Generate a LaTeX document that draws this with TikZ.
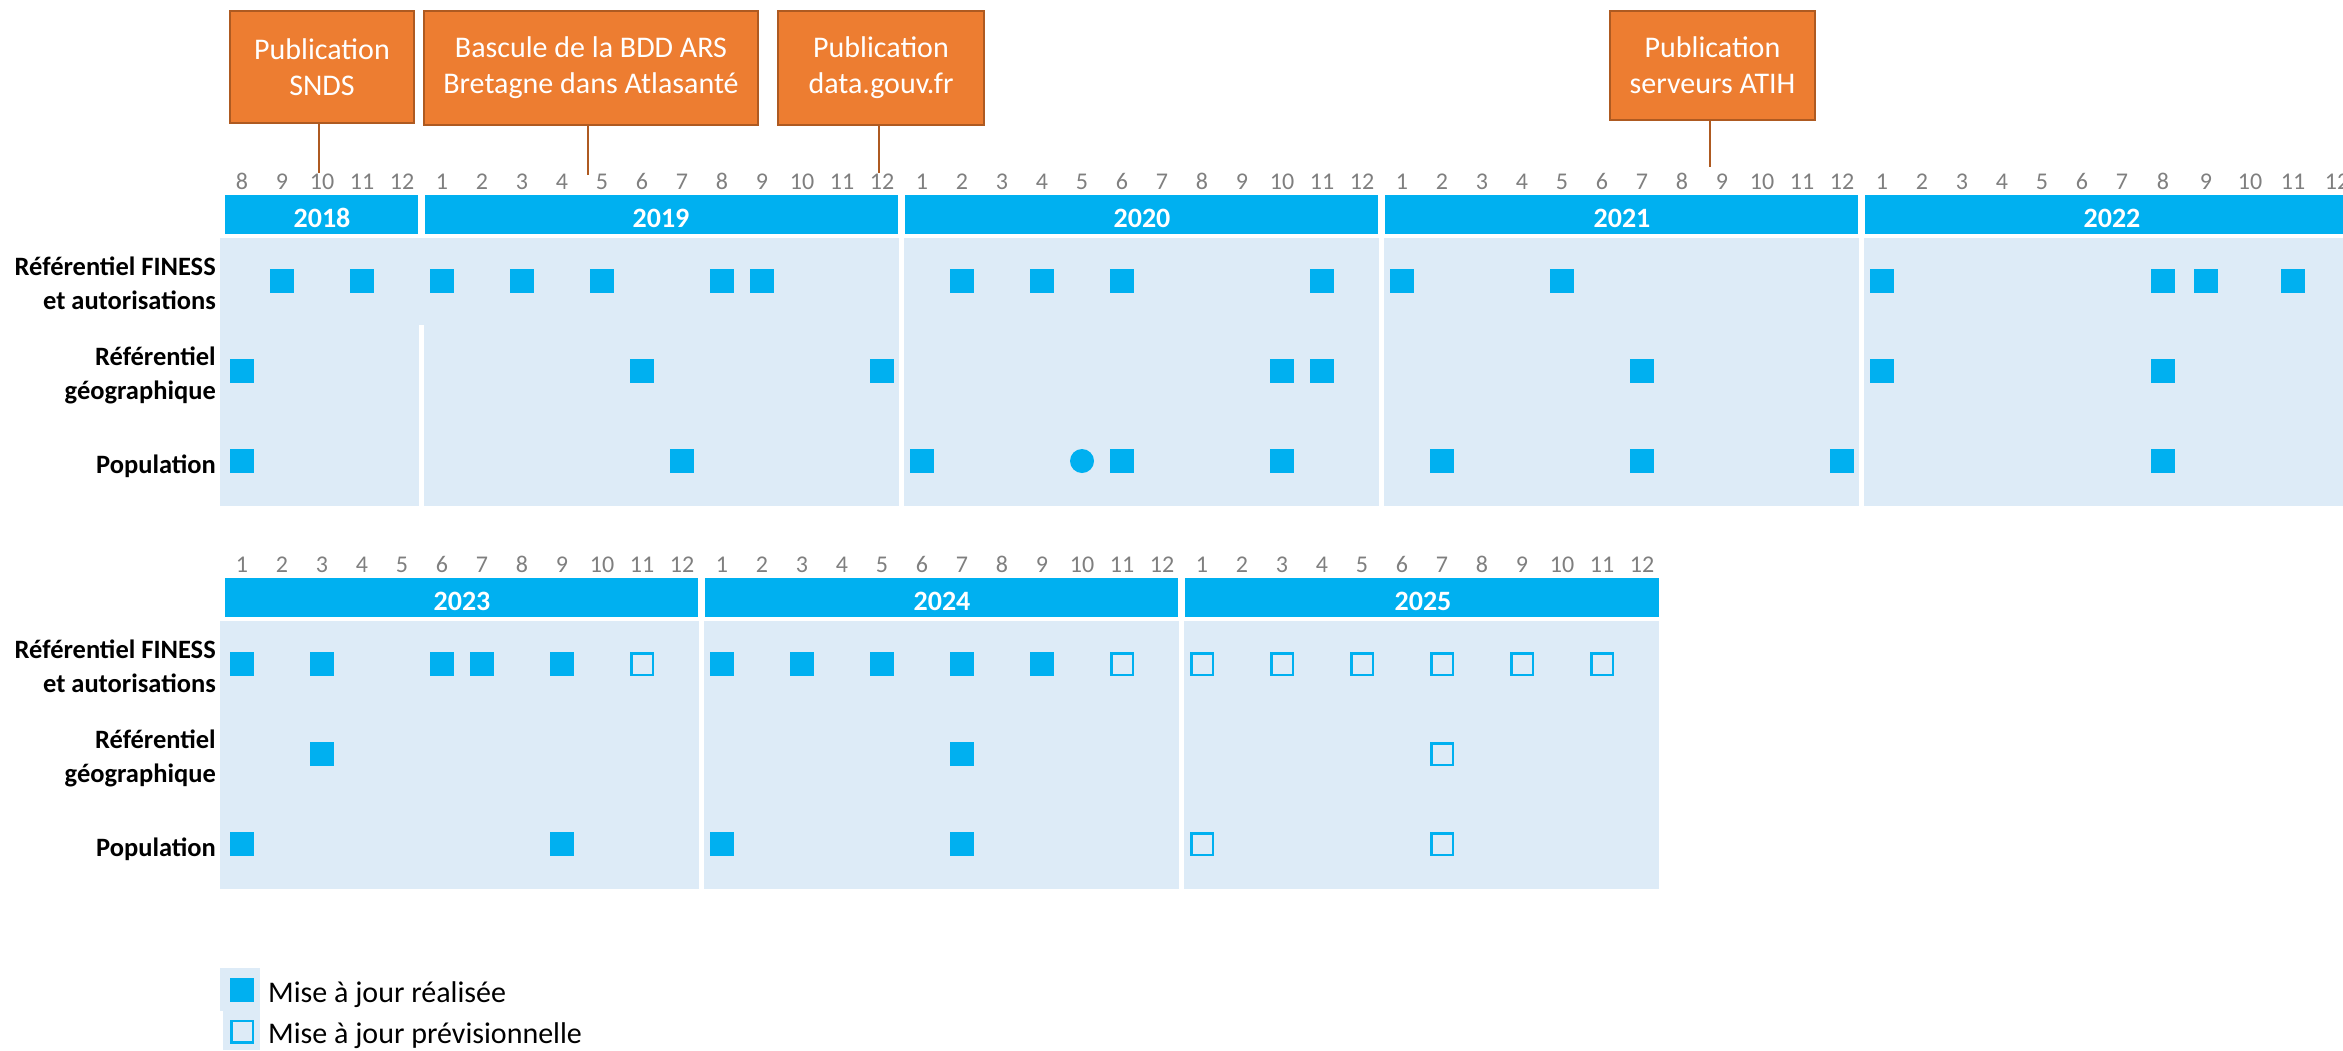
\documentclass[tikz,border=0pt]{standalone}
\usepackage{fontspec}
\setmainfont{Carlito}
\definecolor{barblue}{HTML}{00B0F0}
\definecolor{panelbg}{HTML}{DDEBF7}
\definecolor{pubor}{HTML}{ED7D31}
\definecolor{pubedge}{HTML}{AE5A21}
\definecolor{monthgray}{HTML}{7F7F7F}
\begin{document}
\begin{tikzpicture}[x=1pt,y=-1pt,
  yearpanel/.style={fill=panelbg, draw=none},
  yearbar/.style={fill=barblue, draw=none},
  monthlbl/.style={font=\fontsize{24}{28}\selectfont, text=monthgray, anchor=base, inner sep=0},
  yearlbl/.style={font=\bfseries\fontsize{28}{32}\selectfont, text=white, anchor=base, inner sep=0},
  rowlbl/.style={font=\bfseries\fontsize{26.5}{34}\selectfont, align=right, anchor=east, inner sep=0},
  pubbox/.style={rectangle, fill=pubor, draw=pubedge, line width=2.5pt, text=white, font=\fontsize{30}{36}\selectfont, align=center, inner sep=0},
  donemark/.style={rectangle, fill=barblue, draw=none, minimum size=24pt, inner sep=0},
  planmark/.style={rectangle, fill=panelbg, draw=barblue, line width=2.5pt, minimum size=21.5pt, inner sep=0},
  evdot/.style={circle, fill=barblue, draw=none, minimum size=24pt, inner sep=0},
  publine/.style={draw=pubedge, line width=2.5pt},
  legendtxt/.style={font=\fontsize{30}{34}\selectfont, anchor=base west, inner sep=0}
]
\useasboundingbox (0,0) rectangle (2343,1050);
\clip (0,0) rectangle (2343,1050);

% ---------- top chart: panels ----------
\fill[yearpanel] (220,238) rectangle (418.5,506);
\fill[yearpanel] (418,238) rectangle (424,325);
\fill[yearpanel] (423.5,238) rectangle (898.5,506);
\fill[yearpanel] (903.5,238) rectangle (1378.5,506);
\fill[yearpanel] (1383.5,238) rectangle (1858.5,506);
\fill[yearpanel] (1863.5,238) rectangle (2343,506);
% bars
\fill[yearbar] (225,195) rectangle (418,234);
\fill[yearbar] (425,195) rectangle (898,234);
\fill[yearbar] (905,195) rectangle (1378,234);
\fill[yearbar] (1385,195) rectangle (1858,234);
\fill[yearbar] (1865,195) rectangle (2343,234);
\node[yearlbl] (y2018) at (322,227) {2018};
\node[yearlbl] (y2019) at (661,227) {2019};
\node[yearlbl] (y2020) at (1142,227) {2020};
\node[yearlbl] (y2021) at (1622,227) {2021};
\node[yearlbl] (y2022) at (2112,227) {2022};
% months
\foreach \m in {8,...,12} \node[monthlbl] (m18-\m) at ({242+40*(\m-8)},189) {\m};
\foreach \yr/\xs in {19/442, 20/922, 21/1402}
  \foreach \m in {1,...,12} \node[monthlbl] (m\yr-\m) at ({\xs+40*(\m-1)},189) {\m};
\foreach \m/\x in {1/1882,2/1922,3/1962,4/2002,5/2042,6/2082,7/2122,8/2163,9/2206,10/2250,11/2293,12/2337}
  \node[monthlbl] (m22-\m) at (\x,189) {\m};
% row labels
\node[rowlbl] (lt1) at (216,283) {Référentiel FINESS\\et autorisations};
\node[rowlbl] (lt2) at (216,375) {Référentiel\\géographique};
\node[rowlbl] (lt3) at (216,466) {Population};
% markers
\foreach \x [count=\i] in {282,362,442,522,602,722,762,962,1042,1122,1322,1402,1562,1882,2163,2206,2293}
  \node[donemark] (ta\i) at (\x,281) {};
\foreach \x [count=\i] in {242,642,882,1282,1322,1642,1882,2163}
  \node[donemark] (tb\i) at (\x,371) {};
\foreach \x [count=\i] in {242,682,922,1122,1282,1442,1642,1842,2163}
  \node[donemark] (tc\i) at (\x,461) {};
\node[evdot] (tcdot) at (1082,461) {};

% ---------- bottom chart ----------
\fill[yearpanel] (220,621) rectangle (698.5,889);
\fill[yearpanel] (703.5,621) rectangle (1178.5,889);
\fill[yearpanel] (1183.5,621) rectangle (1659,889);
\fill[yearbar] (225,578) rectangle (698,617);
\fill[yearbar] (705,578) rectangle (1178,617);
\fill[yearbar] (1185,578) rectangle (1659,617);
\node[yearlbl] (y2023) at (462,610) {2023};
\node[yearlbl] (y2024) at (942,610) {2024};
\node[yearlbl] (y2025) at (1423,610) {2025};
\foreach \yr/\xs in {23/242, 24/722, 25/1202}
  \foreach \m in {1,...,12} \node[monthlbl] (m\yr-\m) at ({\xs+40*(\m-1)},572) {\m};
\node[rowlbl] (lb1) at (216,666) {Référentiel FINESS\\et autorisations};
\node[rowlbl] (lb2) at (216,758) {Référentiel\\géographique};
\node[rowlbl] (lb3) at (216,849) {Population};
\foreach \x [count=\i] in {242,322,442,482,562,722,802,882,962,1042}
  \node[donemark] (ba\i) at (\x,664) {};
\foreach \x [count=\i] in {642,1122,1202,1282,1362,1442,1522,1602}
  \node[planmark] (bao\i) at (\x,664) {};
\foreach \x [count=\i] in {322,962}
  \node[donemark] (bb\i) at (\x,754) {};
\node[planmark] (bbo1) at (1442,754) {};
\foreach \x [count=\i] in {242,562,722,962}
  \node[donemark] (bc\i) at (\x,844) {};
\foreach \x [count=\i] in {1202,1442}
  \node[planmark] (bco\i) at (\x,844) {};

% ---------- publication boxes ----------
\node[pubbox, minimum width=184pt, minimum height=112pt] (snds) at (322,67) {Publication\\SNDS};
\node[pubbox, minimum width=334pt, minimum height=114pt] (bascule) at (591,68) {Bascule de la BDD ARS\\Bretagne dans Atlasanté};
\node[pubbox, minimum width=206pt, minimum height=114pt] (datagouv) at (881,68) {Publication\\data.gouv.fr};
\node[pubbox, minimum width=205pt, minimum height=109pt] (atih) at (1712.5,65.5) {Publication\\serveurs ATIH};
\coordinate (sndsend) at (319,173);
\coordinate (basend) at (588,175);
\coordinate (dataend) at (879,173);
\coordinate (atihend) at (1710,167);
\draw[publine] (sndsend |- snds.south) -- (sndsend);
\draw[publine] (basend |- bascule.south) -- (basend);
\draw[publine] (dataend |- datagouv.south) -- (dataend);
\draw[publine] (atihend |- atih.south) -- (atihend);

% ---------- legend ----------
\fill[yearpanel] (220,968) rectangle (260,1011);
\fill[yearpanel] (223,1011) rectangle (260,1050);
\node[donemark] (legdone) at (242,990) {};
\node[planmark] (legplan) at (242,1031.5) {};
\node[legendtxt] (legt1) at (268,1002) {Mise à jour réalisée};
\node[legendtxt] (legt2) at (268,1043) {Mise à jour prévisionnelle};
\end{tikzpicture}
\end{document}
